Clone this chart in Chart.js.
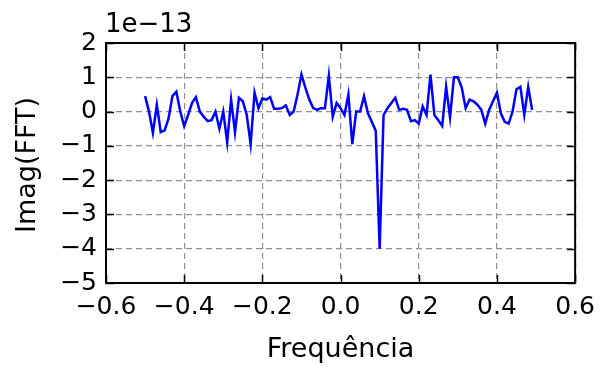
<!DOCTYPE html>
<html>
<head>
<meta charset="utf-8">
<script src="https://cdn.jsdelivr.net/npm/chart.js@4/dist/chart.umd.min.js"></script>
<style>
  html, body { margin: 0; padding: 0; background: #fff; }
  #wrap { width: 604px; height: 367px; }
</style>
</head>
<body>
<div id="wrap"><canvas id="fftChart" width="604" height="367"></canvas></div>
<script>
// frequencies (x) and imaginary part of the FFT (in units of 1e-13)
let freq = [
  -0.50, -0.49, -0.48, -0.47, -0.46, -0.45, -0.44, -0.43, -0.42, -0.41,
  -0.40, -0.39, -0.38, -0.37, -0.36, -0.35, -0.34, -0.33, -0.32, -0.31,
  -0.30, -0.29, -0.28, -0.27, -0.26, -0.25, -0.24, -0.23, -0.22, -0.21,
  -0.20, -0.19, -0.18, -0.17, -0.16, -0.15, -0.14, -0.13, -0.12, -0.11,
  -0.10, -0.09, -0.08, -0.07, -0.06, -0.05, -0.04, -0.03, -0.02, -0.01,
   0.00,  0.01,  0.02,  0.03,  0.04,  0.05,  0.06,  0.07,  0.08,  0.09,
   0.10,  0.11,  0.12,  0.13,  0.14,  0.15,  0.16,  0.17,  0.18,  0.19,
   0.20,  0.21,  0.22,  0.23,  0.24,  0.25,  0.26,  0.27,  0.28,  0.29,
   0.30,  0.31,  0.32,  0.33,  0.34,  0.35,  0.36,  0.37,  0.38,  0.39,
   0.40,  0.41,  0.42,  0.43,  0.44,  0.45,  0.46,  0.47,  0.48,  0.49
];
let imagFFT = [
   0.45,  0.00, -0.62,  0.20, -0.60, -0.55, -0.20,  0.45,  0.58,  0.00,
  -0.42, -0.10,  0.25,  0.42,  0.00, -0.15, -0.28, -0.25,  0.00, -0.50,
   0.00, -0.90,  0.35, -0.60,  0.40,  0.30, -0.10, -0.95,  0.55,  0.10,
   0.38,  0.35,  0.42,  0.08,  0.08,  0.10,  0.18, -0.10,  0.00,  0.50,
   1.08,  0.70,  0.35,  0.10,  0.05,  0.10,  0.10,  1.05, -0.15,  0.25,
   0.10, -0.10,  0.50, -0.95,  0.00,  0.00,  0.45, -0.05, -0.30, -0.56,
  -4.00, -0.10,  0.10,  0.25,  0.40,  0.05,  0.08,  0.05, -0.28, -0.25,
  -0.35,  0.15, -0.10,  1.08, -0.10, -0.25, -0.42,  0.72, -0.17,  1.00,
   1.00,  0.70,  0.10,  0.35,  0.30,  0.20,  0.05, -0.35,  0.05,  0.30,
   0.55, -0.05, -0.30, -0.35,  0.00,  0.65,  0.72, -0.10,  0.72,  0.05
];
let xTicks = [-0.6, -0.4, -0.2, 0.0, 0.2, 0.4, 0.6];
let yTicks = [2, 1, 0, -1, -2, -3, -4, -5];
let xTitle = 'Frequência';
let yTitle = 'Imag(FFT)';
let offsetText = '1e\u221213';

const FONT = "'DejaVu Sans', sans-serif";

function minus(s) {
  return s.replace('-', '\u2212');
}

// frame, inward ticks and titles, drawn like matplotlib
const mplFrame = {
  id: 'mplFrame',
  afterDraw(chart) {
    const ctx = chart.ctx;
    const a = chart.chartArea;
    const xs = chart.scales.x, ys = chart.scales.y;
    ctx.save();
    ctx.strokeStyle = '#000';
    ctx.lineWidth = 1.5;
    xTicks.forEach(v => {
      let px = Math.round(xs.getPixelForValue(v)) + 0.5;
      ctx.beginPath();
      ctx.moveTo(px, a.bottom); ctx.lineTo(px, a.bottom - 8);
      ctx.moveTo(px, a.top); ctx.lineTo(px, a.top + 8);
      ctx.stroke();
    });
    yTicks.forEach(v => {
      let py = Math.round(ys.getPixelForValue(v)) + 0.5;
      ctx.beginPath();
      ctx.moveTo(a.left, py); ctx.lineTo(a.left + 8, py);
      ctx.moveTo(a.right, py); ctx.lineTo(a.right - 8, py);
      ctx.stroke();
    });
    ctx.lineWidth = 2;
    ctx.strokeRect(a.left, a.top, a.right - a.left, a.bottom - a.top);

    ctx.fillStyle = '#000';
    ctx.font = '27px ' + FONT;
    ctx.textAlign = 'center';
    ctx.textBaseline = 'middle';
    ctx.fillText(xTitle, (a.left + a.right) / 2, 350);
    ctx.save();
    ctx.translate(28, (a.top + a.bottom) / 2 + 2);
    ctx.rotate(-Math.PI / 2);
    ctx.fillText(yTitle, 0, 0);
    ctx.restore();
    ctx.font = '26px ' + FONT;
    ctx.textAlign = 'left';
    ctx.textBaseline = 'alphabetic';
    ctx.fillText(offsetText, a.left - 1, 32);
    ctx.restore();
  }
};

let ctx = document.getElementById('fftChart').getContext('2d');
let fftChart = new Chart(ctx, {
  type: 'scatter',
  data: {
    datasets: [{
      data: freq.map((f, i) => ({ x: f, y: imagFFT[i] })),
      showLine: true,
      borderColor: '#0000ff',
      borderWidth: 2.5,
      pointRadius: 0,
      tension: 0,
      fill: false
    }]
  },
  options: {
    responsive: false,
    animation: false,
    layout: { padding: { top: 43, right: 25, left: 0, bottom: 0 } },
    plugins: {
      legend: { display: false },
      tooltip: { enabled: false }
    },
    scales: {
      x: {
        type: 'linear',
        min: -0.6,
        max: 0.6,
        afterFit(scale) { scale.height = 84; },
        afterBuildTicks(scale) { scale.ticks = xTicks.map(v => ({ value: v })); },
        ticks: {
          padding: 9,
          color: '#000',
          font: { family: FONT, size: 25 },
          maxRotation: 0,
          callback: v => minus(Number(v).toFixed(1))
        },
        grid: { color: '#909090', lineWidth: 1.2, drawTicks: false },
        border: { display: false, dash: [6, 4] }
      },
      y: {
        type: 'linear',
        min: -5,
        max: 2,
        afterFit(scale) { scale.width = 106; },
        afterBuildTicks(scale) { scale.ticks = yTicks.map(v => ({ value: v })); },
        ticks: {
          padding: 9,
          color: '#000',
          font: { family: FONT, size: 25 },
          callback: v => minus(String(Math.round(v)))
        },
        grid: { color: '#909090', lineWidth: 1.2, drawTicks: false },
        border: { display: false, dash: [6, 4] }
      }
    }
  },
  plugins: [mplFrame]
});
</script>
</body>
</html>
